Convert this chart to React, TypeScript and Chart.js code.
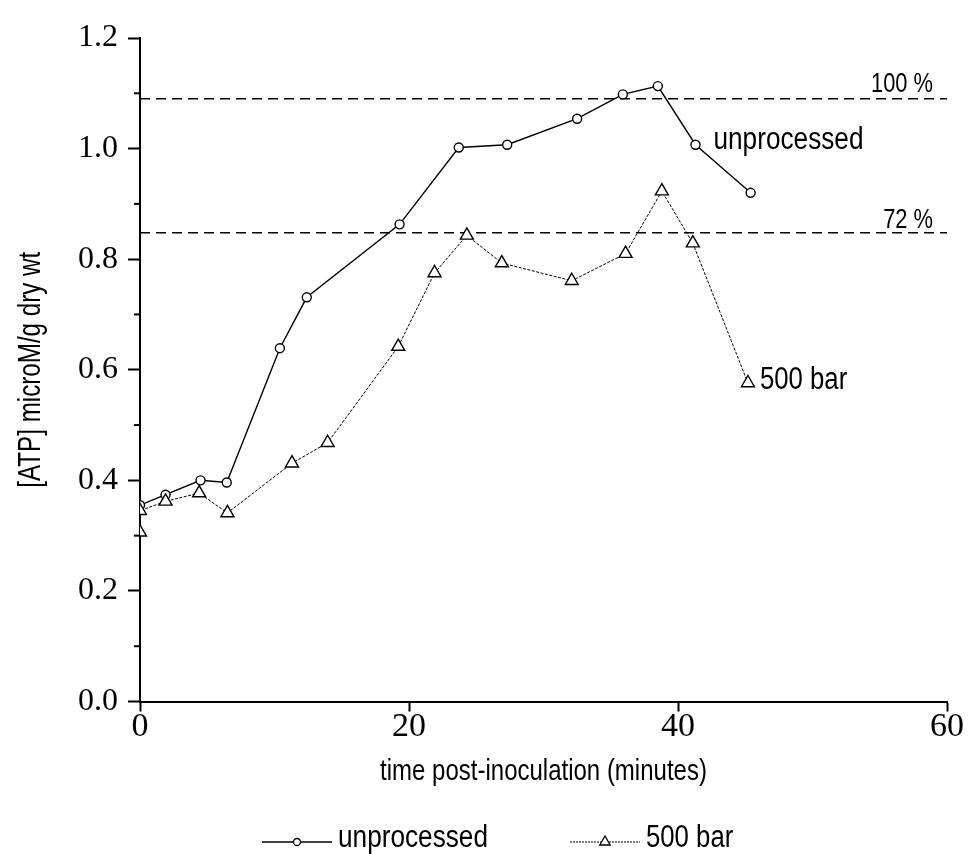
import React, { useEffect, useRef } from "react";
import { Chart, registerables } from "chart.js";
Chart.register(...registerables);

// ---- data ----
const unprocessedTime = [0, 1.9, 4.5, 6.45, 10.4, 12.4, 19.3, 23.7, 27.3, 32.5, 35.9, 38.5, 41.3, 45.4];
const unprocessedATP = [0.355, 0.374, 0.4, 0.396, 0.639, 0.731, 0.863, 1.002, 1.007, 1.054, 1.098, 1.113, 1.007, 0.92];

const bar500Time = [0, 0, 1.9, 4.4, 6.5, 11.3, 13.95, 19.2, 21.9, 24.3, 26.9, 32.1, 36.1, 38.8, 41.1, 45.2];
const bar500ATP = [0.306, 0.345, 0.362, 0.377, 0.341, 0.431, 0.468, 0.642, 0.775, 0.843, 0.793, 0.761, 0.81, 0.923, 0.829, 0.576];

const refLevels = [1.09, 0.848];
const refLabels = ["100 %", "72 %"];
const refRange = [0, 60];

const xTicks = [0, 20, 40, 60];
const yMajorTicks = [0, 0.2, 0.4, 0.6, 0.8, 1.0, 1.2];
const yMinorTicks = [0.1, 0.3, 0.5, 0.7, 0.9, 1.1];

const seriesNames = ["unprocessed", "500 bar"];
const xTitle = "time post-inoculation (minutes)";
const yTitle = "[ATP] microM/g dry wt";

const SANS = "'Liberation Sans', Arial, sans-serif";

function narrowText(
  c: CanvasRenderingContext2D,
  text: string,
  x: number,
  y: number,
  size: number,
  sx: number,
  align: CanvasTextAlign = "left",
  rotate = 0
) {
  c.save();
  c.translate(x, y);
  if (rotate) c.rotate(rotate);
  c.scale(sx, 1);
  c.font = `${size}px ${SANS}`;
  c.textAlign = align;
  c.textBaseline = "alphabetic";
  c.fillStyle = "#000";
  c.fillText(text, 0, 0);
  c.restore();
}

export default function App() {
  const ref = useRef<HTMLCanvasElement>(null);
  useEffect(() => {
    document.body.style.margin = "0";
    const canvas = ref.current!;
    const serif = "'Liberation Serif', 'Times New Roman', serif";

    const overlay = {
      id: "overlay",
      afterDraw(chart: any) {
        const c = chart.ctx as CanvasRenderingContext2D;
        const xs = chart.scales.x;
        const ys = chart.scales.y;
        const area = chart.chartArea;
        c.save();
        // minor y ticks
        c.strokeStyle = "#000";
        c.lineWidth = 2;
        yMinorTicks.forEach((v) => {
          const py = ys.getPixelForValue(v);
          c.beginPath();
          c.moveTo(area.left - 6, py);
          c.lineTo(area.left, py);
          c.stroke();
        });
        // axis titles
        narrowText(c, xTitle, (area.left + area.right) / 2, 780, 30, 0.8, "center");
        narrowText(c, yTitle, 40, (area.top + area.bottom) / 2, 31, 0.78, "center", -Math.PI / 2);
        // reference labels
        refLevels.forEach((lv, i) => {
          narrowText(c, refLabels[i], xs.getPixelForValue(60) - 14, ys.getPixelForValue(lv) - (i === 0 ? 7 : 5), 28, 0.78, "right");
        });
        // series labels near their ends
        const ui = unprocessedTime.length - 2;
        narrowText(c, seriesNames[0], xs.getPixelForValue(unprocessedTime[ui]) + 18, ys.getPixelForValue(unprocessedATP[ui]) + 4, 31, 0.845);
        const bi = bar500Time.length - 1;
        narrowText(c, seriesNames[1], xs.getPixelForValue(bar500Time[bi]) + 12, ys.getPixelForValue(bar500ATP[bi]) + 6, 31, 0.83);

        // legend
        const ly = 842;
        c.strokeStyle = "#000";
        c.lineWidth = 1.3;
        c.setLineDash([]);
        c.beginPath();
        c.moveTo(262, ly);
        c.lineTo(332, ly);
        c.stroke();
        c.beginPath();
        c.arc(297, ly, 3.5, 0, Math.PI * 2);
        c.fillStyle = "#fff";
        c.fill();
        c.stroke();
        narrowText(c, seriesNames[0], 338, 847, 31, 0.845);

        c.lineWidth = 1;
        c.setLineDash([2, 1]);
        c.beginPath();
        c.moveTo(570, ly);
        c.lineTo(640, ly);
        c.stroke();
        c.setLineDash([]);
        c.lineWidth = 1.3;
        const r = 6;
        c.beginPath();
        c.moveTo(605, ly - r);
        c.lineTo(605 + r * 0.866, ly + r / 2);
        c.lineTo(605 - r * 0.866, ly + r / 2);
        c.closePath();
        c.fillStyle = "#fff";
        c.fill();
        c.stroke();
        narrowText(c, seriesNames[1], 646, 847, 31, 0.83);
        c.restore();
      },
    };

    const chart = new Chart(canvas, {
      type: "line",
      data: {
        datasets: [
          {
            label: seriesNames[1],
            data: bar500Time.map((x, i) => ({ x, y: bar500ATP[i] })),
            borderColor: "#000",
            borderWidth: 1,
            borderDash: [3, 1.5],
            pointStyle: "triangle",
            pointRadius: 7.5,
            pointBorderWidth: 1.4,
            pointBackgroundColor: "#fff",
            pointBorderColor: "#000",
            tension: 0,
            order: 0,
          },
          {
            label: seriesNames[0],
            data: unprocessedTime.map((x, i) => ({ x, y: unprocessedATP[i] })),
            borderColor: "#000",
            borderWidth: 1.4,
            pointStyle: "circle",
            pointRadius: 4.5,
            pointBorderWidth: 1.4,
            pointBackgroundColor: "#fff",
            pointBorderColor: "#000",
            tension: 0,
            order: 1,
          },
          ...refLevels.map((lv, i) => ({
            label: refLabels[i],
            data: refRange.map((x) => ({ x, y: lv })),
            borderColor: "#000",
            borderWidth: 1.5,
            borderDash: [10, 6],
            pointRadius: 0,
            order: 2,
          })),
        ],
      },
      options: {
        responsive: false,
        animation: false,
        events: [],
        layout: { padding: { left: 0, right: 21, top: 38, bottom: 67 } },
        plugins: { legend: { display: false }, tooltip: { enabled: false } },
        scales: {
          x: {
            type: "linear",
            min: 0,
            max: 60,
            afterFit: (s: any) => {
              s.height = 85.5;
            },
            afterBuildTicks: (s: any) => {
              s.ticks = xTicks.map((v) => ({ value: v }));
            },
            ticks: {
              color: "#000",
              padding: -1,
              font: { family: serif, size: 34, lineHeight: 1 },
              maxRotation: 0,
              autoSkip: false,
            },
            grid: { display: true, drawOnChartArea: false, drawTicks: true, tickLength: 10, tickWidth: 2, tickColor: "#000" },
            border: { display: true, color: "#000", width: 2 },
          },
          y: {
            type: "linear",
            min: 0,
            max: 1.2,
            afterFit: (s: any) => {
              s.width = 140;
            },
            afterBuildTicks: (s: any) => {
              s.ticks = yMajorTicks.map((v) => ({ value: v }));
            },
            ticks: {
              color: "#000",
              padding: 10,
              font: { family: serif, size: 32 },
              callback: (v: any) => Number(v).toFixed(1),
            },
            grid: { display: true, drawOnChartArea: false, drawTicks: true, tickLength: 12, tickWidth: 2, tickColor: "#000" },
            border: { display: true, color: "#000", width: 2 },
          },
        },
      },
      plugins: [overlay],
    });
    return () => chart.destroy();
  }, []);
  return (
    <div style={{ position: "relative", width: 968, height: 854 }}>
      <canvas ref={ref} width={968} height={854} style={{ display: "block", width: 968, height: 854 }} />
    </div>
  );
}
